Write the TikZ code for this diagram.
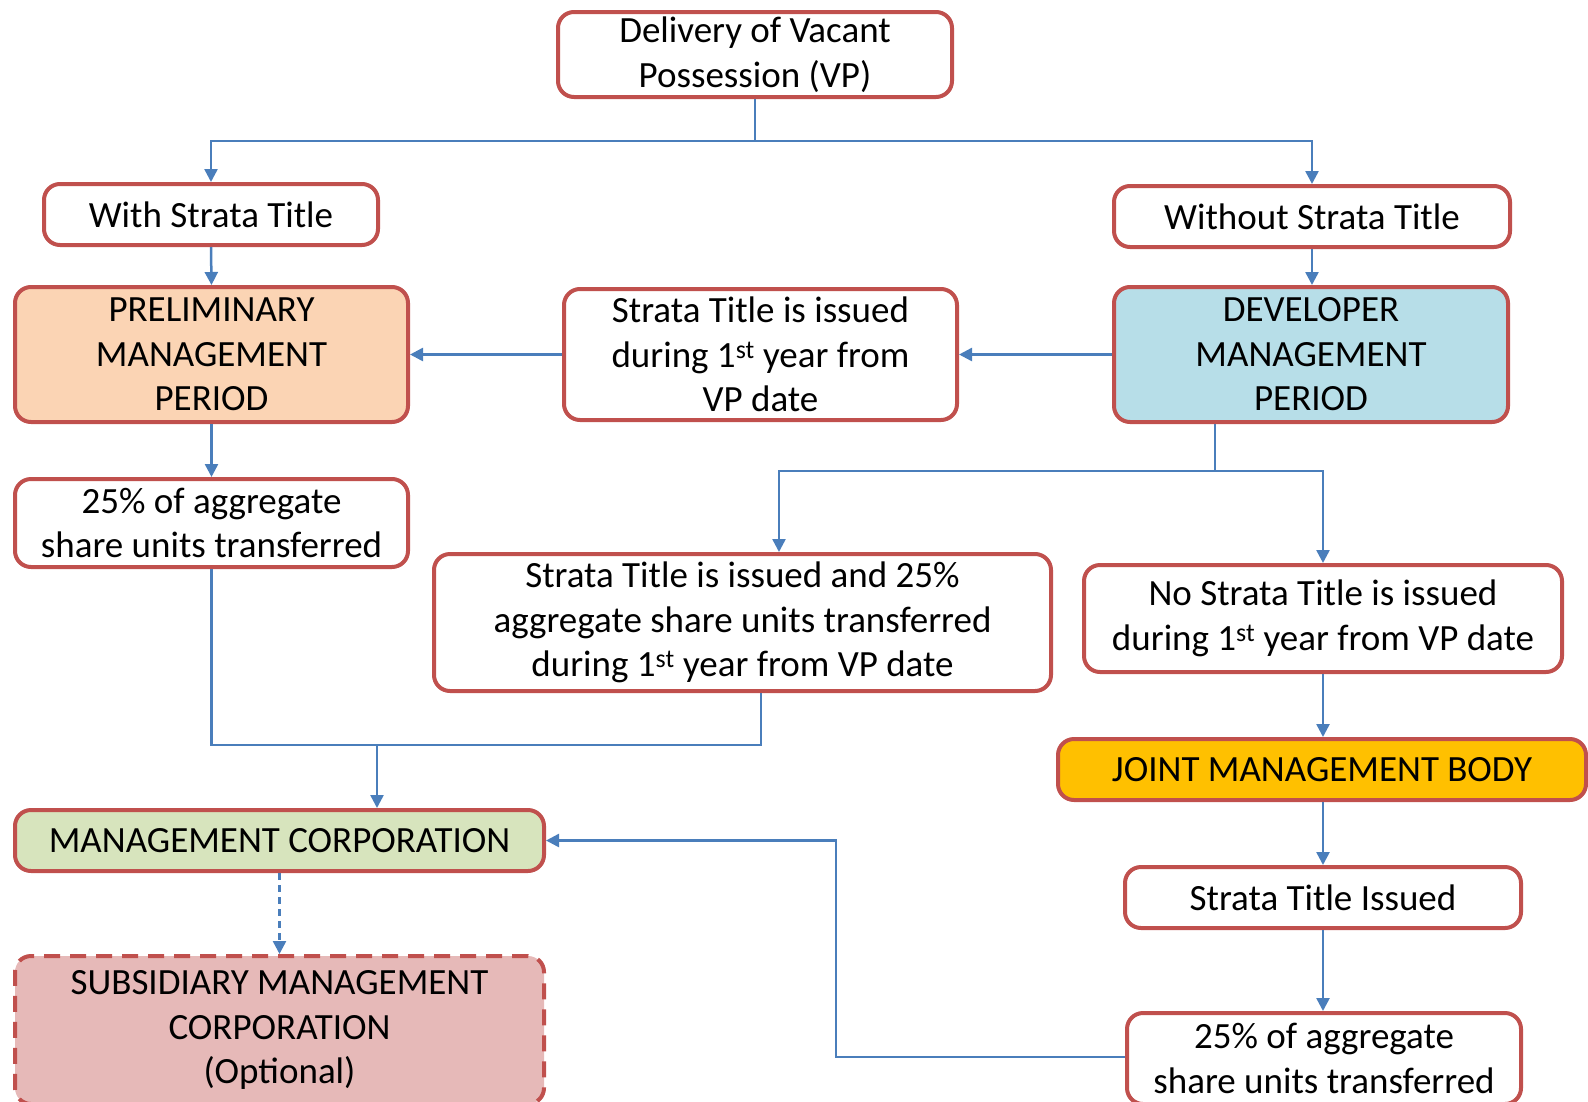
\documentclass[tikz,border=0pt]{standalone}
\usepackage{fontspec}
\setmainfont{Carlito}
\usetikzlibrary{arrows.meta,calc}
\definecolor{boxred}{HTML}{C0504D}
\definecolor{linkblue}{HTML}{4A7EBB}
\definecolor{peach}{HTML}{FBD4B4}
\definecolor{lightblue}{HTML}{B7DEE8}
\definecolor{amber}{HTML}{FFC000}
\definecolor{sage}{HTML}{D7E4BD}
\definecolor{rose}{HTML}{E6B9B8}
\begin{document}
\begin{tikzpicture}[x=1pt,y=-1pt,
  box/.style={draw=boxred,line width=4pt,rounded corners=16pt,fill=white,
    align=center,inner sep=0pt,font=\fontsize{37pt}{44.5pt}\selectfont},
  link/.style={draw=linkblue,line width=2.5pt},
  arr/.style={link,-{Triangle[length=13pt,width=13pt]}}]
\useasboundingbox (0,0) rectangle (1588,1101);

% boxes
\node[box,minimum width=394pt,minimum height=85pt] (vp) at (755,54.5) {Delivery of Vacant\\Possession (VP)};
\node[box,minimum width=334pt,minimum height=61pt] (with) at (211,214.5) {With Strata Title};
\node[box,minimum width=396pt,minimum height=61pt] (without) at (1312,216.5) {Without Strata Title};
\node[box,fill=peach,minimum width=393pt,minimum height=135pt] (prelim) at (211.5,354.5) {PRELIMINARY\\MANAGEMENT\\PERIOD};
\node[box,minimum width=393pt,minimum height=131pt] (issued) at (760.5,354.5) {Strata Title is issued\\during 1\textsuperscript{st} year from\\VP date};
\node[box,fill=lightblue,minimum width=394pt,minimum height=135pt] (dev) at (1311,354.5) {DEVELOPER\\MANAGEMENT\\PERIOD};
\node[box,minimum width=393pt,minimum height=88pt] (qL) at (211.5,523) {25\% of aggregate\\share units transferred};
\node[box,minimum width=617pt,minimum height=137pt] (both) at (742.5,622.5) {Strata Title is issued and 25\%\\aggregate share units transferred\\during 1\textsuperscript{st} year from VP date};
\node[box,minimum width=478pt,minimum height=107pt] (nost) at (1323,618.5) {No Strata Title is issued\\during 1\textsuperscript{st} year from VP date};
\node[box,fill=amber,minimum width=528pt,minimum height=61pt] (jmb) at (1322,769.5) {JOINT MANAGEMENT BODY};
\node[box,fill=sage,minimum width=529pt,minimum height=61pt] (mc) at (279.5,840.5) {MANAGEMENT CORPORATION};
\node[box,fill=rose,dashed,dash pattern=on 16pt off 10pt,minimum width=529pt,minimum height=148pt] (sub) at (279.5,1030) {SUBSIDIARY MANAGEMENT\\CORPORATION\\(Optional)};
\node[box,minimum width=396pt,minimum height=61pt] (sti) at (1323,897.5) {Strata Title Issued};
\node[box,minimum width=394pt,minimum height=91pt] (qR) at (1324,1058.5) {25\% of aggregate\\share units transferred};

% junction points
\coordinate (fork) at (755,141);
\coordinate (split) at (1215,471);
\coordinate (merge) at (377,745);
\coordinate (turn) at (836,1057);

% connectors
\draw[link] (vp.south) -- (fork);
\draw[arr] (fork) -| (with.north);
\draw[arr] (fork) -| (without.north);
\draw[arr] (with.south) -- (prelim.north);
\draw[arr] (without.south) -- (without.south |- dev.north);
\draw[arr] (dev.west) -- (issued.east);
\draw[arr] (issued.west) -- (prelim.east);
\draw[arr] (prelim.south) -- (qL.north);
\draw[link] ([xshift=-96pt]dev.south) -- (split);
\draw[arr] (split) -| ([xshift=36.5pt]both.north);
\draw[arr] (split) -| (nost.north);
\draw[link] (qL.south) |- (merge);
\draw[link] ([xshift=18.5pt]both.south) |- (merge);
\draw[arr] (merge) -- ([xshift=97.5pt]mc.north);
\draw[arr] (nost.south) -- (nost.south |- jmb.north);
\draw[arr] (sti.north |- jmb.south) -- (sti.north);
\draw[arr] (sti.south) -- (sti.south |- qR.north);
\draw[arr] (qR.west |- turn) -- (turn) |- (mc.east);
\draw[arr,dashed,dash pattern=on 7pt off 5pt] (mc.south) -- (sub.north);
\end{tikzpicture}
\end{document}
